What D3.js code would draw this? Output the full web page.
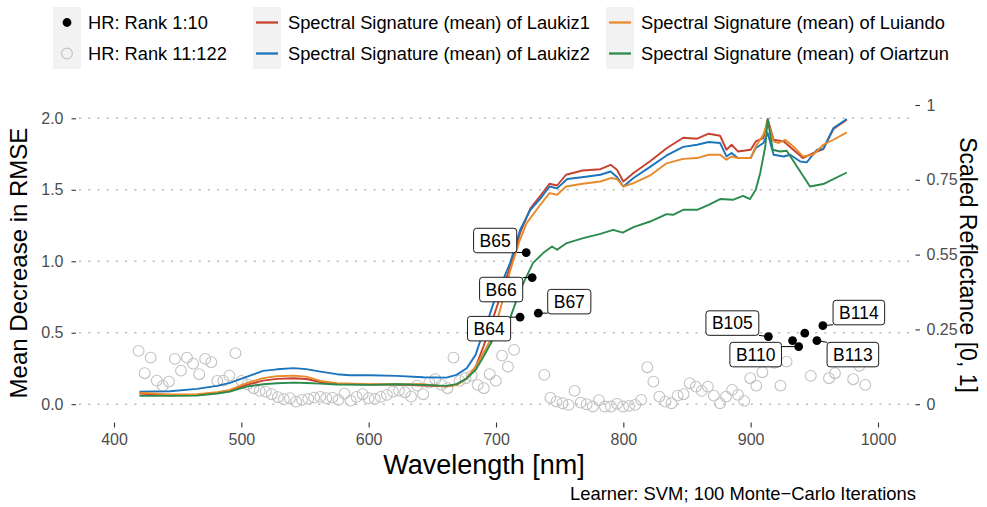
<!DOCTYPE html>
<html>
<head>
<meta charset="utf-8">
<script src="https://cdn.jsdelivr.net/npm/d3@7"></script>
<style>
  html, body { margin: 0; padding: 0; background: #fff; }
  svg { display: block; font-family: "Liberation Sans", Arial, sans-serif; }
</style>
</head>
<body>
<svg id="chart" width="987" height="507"></svg>
<script>
// ---- Band centre wavelengths [nm], B1 ... B122 ----
const bandWavelength = [
  419.3, 424.1, 428.8, 433.6, 438.3, 443.1, 447.8, 452.6, 457.3, 462.1,
  466.9, 471.6, 476.4, 481.1, 485.9, 490.6, 495.4, 500.2, 504.9, 509.7,
  514.4, 519.2, 523.9, 528.7, 533.4, 538.2, 543.0, 547.7, 552.5, 557.2,
  562.0, 566.7, 571.5, 576.3, 581.0, 585.8, 590.5, 595.3, 600.0, 604.8,
  609.5, 614.3, 619.1, 623.8, 628.6, 633.3, 638.1, 642.8, 647.6, 652.3,
  657.1, 661.9, 666.6, 671.4, 676.1, 680.9, 685.6, 690.4, 695.1, 699.9,
  704.7, 709.4, 714.2, 718.9, 723.7, 728.4, 733.2, 737.9, 742.7, 747.5,
  752.2, 757.0, 761.7, 766.5, 771.2, 776.0, 780.8, 785.5, 790.3, 795.0,
  799.8, 804.5, 809.3, 814.0, 818.8, 823.6, 828.3, 833.1, 837.8, 842.6,
  847.3, 852.1, 856.9, 861.6, 866.4, 871.1, 875.9, 880.6, 885.4, 890.1,
  894.9, 899.7, 904.4, 909.2, 913.9, 918.7, 923.4, 928.2, 932.9, 937.7,
  942.5, 947.2, 952.0, 956.7, 961.5, 966.2, 971.0, 975.8, 980.5, 985.3,
  990.0, 994.8
];

// ---- Mean decrease in RMSE per band (permutation importance) ----
const meanDecreaseRMSE = [
  0.373, 0.217, 0.326, 0.165, 0.128, 0.158, 0.317, 0.235, 0.326, 0.284,
  0.210, 0.317, 0.294, 0.163, 0.165, 0.200, 0.357, 0.163, 0.140, 0.112,
  0.093, 0.088, 0.070, 0.049, 0.035, 0.042, 0.018, 0.030, 0.037, 0.046,
  0.051, 0.042, 0.046, 0.030, 0.074, 0.025, 0.051, 0.070, 0.042, 0.037,
  0.051, 0.065, 0.088, 0.095, 0.084, 0.053, 0.130, 0.070, 0.151, 0.175,
  0.135, 0.112, 0.326, 0.163, 0.182, 0.200, 0.135, 0.112, 0.210, 0.163,
  0.340, 0.263, 0.380, 0.609, 1.061, 0.886, 0.637, 0.205, 0.046, 0.018,
  0.007, -0.005, 0.093, 0.011, 0.000, -0.016, 0.028, -0.016, -0.016, 0.002,
  -0.016, -0.012, -0.005, 0.030, 0.259, 0.158, 0.053, 0.018, 0.007, 0.060,
  0.070, 0.147, 0.123, 0.093, 0.123, 0.060, 0.007, 0.053, 0.100, 0.065,
  0.023, 0.182, 0.130, 0.224, 0.473, 0.290, 0.130, 0.298, 0.445, 0.403,
  0.497, 0.198, 0.445, 0.550, 0.182, 0.217, 0.310, 0.330, 0.175, 0.268,
  0.135, 0.300
];

// Bands whose names are written next to their point
const labelledBands = ["B64", "B65", "B66", "B67", "B105", "B110", "B113", "B114"];

// ---- Mean spectral signatures, [wavelength, value on the left axis scale] ----
const laukiz1 = [
  [420, 0.074], [444, 0.062], [465, 0.064], [481, 0.078], [491, 0.092], [504, 0.135],
  [517, 0.165], [528, 0.177], [541, 0.182], [551, 0.176], [562, 0.155], [575, 0.143],
  [601, 0.137], [622, 0.138], [643, 0.130], [661, 0.126], [669, 0.136], [677, 0.180],
  [684, 0.262], [690, 0.400], [698, 0.610], [711, 0.960], [719, 1.200], [727, 1.370],
  [735, 1.460], [742, 1.542], [748, 1.530], [755, 1.605], [768, 1.635], [782, 1.644],
  [790, 1.675], [795, 1.640], [800, 1.558], [808, 1.617], [821, 1.700], [834, 1.790],
  [847, 1.864], [858, 1.857], [867, 1.892], [876, 1.878], [881, 1.780], [885, 1.815],
  [890, 1.768], [900, 1.780], [904, 1.838], [910, 1.862], [913.4, 1.995], [918, 1.850],
  [926, 1.838], [933.5, 1.780], [941, 1.722], [949, 1.757], [957, 1.785], [965, 1.925],
  [975.5, 1.990]
];
const laukiz2 = [
  [420, 0.088], [444, 0.091], [465, 0.107], [481, 0.128], [491, 0.149], [504, 0.191],
  [517, 0.233], [528, 0.244], [541, 0.252], [551, 0.245], [562, 0.228], [575, 0.210],
  [585, 0.203], [601, 0.203], [622, 0.198], [643, 0.189], [661, 0.186], [669, 0.205],
  [677, 0.252], [684, 0.345], [687, 0.427], [690, 0.485], [698, 0.707], [711, 0.987],
  [719, 1.220], [727, 1.360], [735, 1.440], [742, 1.523], [748, 1.510], [756, 1.575],
  [769, 1.589], [782, 1.605], [790, 1.628], [795, 1.589], [800, 1.523], [808, 1.582],
  [821, 1.660], [834, 1.740], [847, 1.800], [858, 1.815], [867, 1.834], [876, 1.827],
  [881, 1.733], [885, 1.757], [890, 1.722], [900, 1.722], [904, 1.792], [910, 1.827],
  [913.4, 1.897], [918, 1.745], [926, 1.733], [931, 1.745], [939, 1.698], [944, 1.692],
  [952, 1.780], [957, 1.785], [965, 1.932], [975.5, 1.995]
];
const luiando = [
  [420, 0.081], [444, 0.068], [465, 0.070], [481, 0.084], [491, 0.100], [504, 0.147],
  [517, 0.182], [528, 0.196], [541, 0.200], [551, 0.193], [562, 0.163], [575, 0.147],
  [601, 0.140], [622, 0.140], [643, 0.140], [661, 0.123], [669, 0.135], [677, 0.182],
  [684, 0.263], [690, 0.357], [695, 0.438], [698, 0.490], [705, 0.720], [711, 0.930],
  [718, 1.130], [724, 1.267], [735, 1.397], [742, 1.477], [748, 1.465], [755, 1.523],
  [768, 1.542], [782, 1.558], [790, 1.582], [795, 1.575], [800, 1.523], [808, 1.547],
  [821, 1.600], [834, 1.685], [847, 1.716], [858, 1.722], [867, 1.745], [876, 1.745],
  [881, 1.710], [885, 1.733], [890, 1.722], [900, 1.722], [904, 1.803], [910, 1.887],
  [913.4, 1.979], [918, 1.838], [922, 1.827], [927, 1.850], [933.5, 1.803], [941, 1.733],
  [949, 1.745], [957, 1.815], [965, 1.850], [975.5, 1.901]
];
const oiartzun = [
  [420, 0.058], [444, 0.058], [465, 0.060], [481, 0.075], [491, 0.088], [504, 0.123],
  [517, 0.140], [528, 0.147], [541, 0.151], [551, 0.148], [562, 0.144], [575, 0.138],
  [601, 0.135], [622, 0.140], [643, 0.135], [661, 0.128], [669, 0.140], [677, 0.180],
  [684, 0.240], [690, 0.330], [698, 0.460], [705, 0.530], [711, 0.600], [719, 0.800],
  [729, 0.987], [737, 1.057], [744, 1.103], [748, 1.080], [755.5, 1.127], [768.5, 1.162],
  [782, 1.192], [792, 1.220], [799.5, 1.200], [808, 1.239], [821, 1.278], [834, 1.330],
  [839, 1.325], [847, 1.360], [858, 1.360], [867, 1.395], [876, 1.435], [886, 1.430],
  [894, 1.458], [899.5, 1.435], [904, 1.500], [907.5, 1.617], [911.5, 1.803], [913.4, 1.995],
  [917.3, 1.780], [923, 1.768], [928.3, 1.773], [946.6, 1.523], [957, 1.540], [975.5, 1.621]
];

const seriesNames  = ["Laukiz1", "Laukiz2", "Luiando", "Oiartzun"];
const seriesValues = [laukiz1, laukiz2, luiando, oiartzun];
const seriesColors = ["#C8412F", "#1C74BC", "#E88A2A", "#2A8B4C"];

// ---- Axis ticks ----
const xTicks = [400, 500, 600, 700, 800, 900, 1000];
const yTicks = [0, 0.5, 1.0, 1.5, 2.0];
const yRightTicks = [0, 0.25, 0.5, 0.75, 1];
const yRightTickLabels = ["0", "0.25", "0.55", "0.75", "1"];

// ---------------------------------------------------------------------------
const svg = d3.select("#chart");
const panel = { left: 76, right: 915.5, top: 96, bottom: 422.5 };

const x  = d3.scaleLinear().domain([400, 1000]).range([114, 878]);
const y  = d3.scaleLinear().domain([0, 2]).range([404.2, 118.3]);
const yR = d3.scaleLinear().domain([0, 1]).range([404.2, 105]);

// horizontal dotted grid at the left-axis breaks
svg.append("g").selectAll("line").data(yTicks).join("line")
  .attr("x1", panel.left + 3).attr("x2", panel.right)
  .attr("y1", d => y(d)).attr("y2", d => y(d))
  .attr("stroke", "#BEBEBE").attr("stroke-width", 1.6)
  .attr("stroke-dasharray", "2.2,7");

// band importance points (ranked; top 10 filled black)
const bands = meanDecreaseRMSE.map((v, i) => ({ name: "B" + (i + 1), wl: bandWavelength[i], v }));
const order = bands.slice().sort((a, b) => b.v - a.v);
order.forEach((d, i) => d.rank = i + 1);
const topBands = bands.filter(d => d.rank <= 10);
const restBands = bands.filter(d => d.rank > 10);

svg.append("g").selectAll("circle").data(restBands).join("circle")
  .attr("cx", d => x(d.wl)).attr("cy", d => y(d.v)).attr("r", 5.4)
  .attr("fill", "none").attr("stroke", "#C2C2C2").attr("stroke-width", 1.1);

// spectral signature lines
const line = d3.line().x(d => x(d[0])).y(d => y(d[1]));
svg.append("g").selectAll("path").data(seriesValues).join("path")
  .attr("d", line).attr("fill", "none")
  .attr("stroke", (d, i) => seriesColors[i]).attr("stroke-width", 1.9)
  .attr("stroke-linejoin", "round");

svg.append("g").selectAll("circle").data(topBands).join("circle")
  .attr("cx", d => x(d.wl)).attr("cy", d => y(d.v)).attr("r", 4.4)
  .attr("fill", "#000");

// repelled labels: offsets of the box centre from its point
const labelOffset = {
  B64: [-31, 11.5], B65: [-31, -12], B66: [-31, 12], B67: [31, -11.5],
  B105: [-36, -13.5], B110: [-43, 8], B113: [36, 14], B114: [36, -13]
};
const labG = svg.append("g");
topBands.filter(d => labelledBands.includes(d.name)).forEach(d => {
  const px = x(d.wl), py = y(d.v);
  const [dx, dy] = labelOffset[d.name];
  const cx = px + dx, cy = py + dy;
  const g = labG.append("g");
  const seg = g.append("line").attr("stroke", "#000").attr("stroke-width", 1);
  const rect = g.append("rect").attr("fill", "#fff").attr("stroke", "#000")
    .attr("stroke-width", 0.9).attr("rx", 3);
  const t = g.append("text").attr("x", cx).attr("y", cy).attr("dy", "0.36em")
    .attr("text-anchor", "middle").attr("font-size", 17.5).attr("fill", "#000").text(d.name);
  const w = t.node().getComputedTextLength() + 12, h = 24.5;
  rect.attr("x", cx - w / 2).attr("y", cy - h / 2).attr("width", w).attr("height", h);
  // segment from point to the nearest box edge, drawn only when clearly apart
  const ex = Math.max(cx - w / 2, Math.min(px, cx + w / 2));
  const ey = Math.max(cy - h / 2, Math.min(py, cy + h / 2));
  const dist = Math.hypot(ex - px, ey - py);
  if (dist > 7) seg.attr("x1", px).attr("y1", py).attr("x2", ex).attr("y2", ey);
  else seg.remove();
});

// ---- axes ----
function styleAxis(g) {
  g.select(".domain").remove();
  g.selectAll(".tick line").attr("stroke", "#333").attr("stroke-width", 1.1);
  g.selectAll(".tick text").attr("fill", "#4D4D4D").attr("font-size", 16)
    .attr("font-family", "Liberation Sans, Arial, sans-serif");
}
svg.append("g").attr("transform", `translate(${panel.left},0)`)
  .call(d3.axisLeft(y).tickValues(yTicks).tickFormat(d3.format(".1f")).tickSize(4.5).tickPadding(8))
  .call(styleAxis);
svg.append("g").attr("transform", `translate(${panel.right},0)`)
  .call(d3.axisRight(yR).tickValues(yRightTicks).tickFormat((d, i) => yRightTickLabels[i]).tickSize(4.5).tickPadding(6.5))
  .call(styleAxis);
svg.append("g").attr("transform", `translate(0,${panel.bottom})`)
  .call(d3.axisBottom(x).tickValues(xTicks).tickFormat(d3.format("d")).tickSize(5).tickPadding(6))
  .call(styleAxis);

// ---- axis titles & caption ----
svg.append("text").attr("x", 484).attr("y", 474).attr("text-anchor", "middle")
  .attr("font-size", 27).attr("fill", "#000").text("Wavelength [nm]");
svg.append("text").attr("transform", "translate(27,263) rotate(-90)").attr("text-anchor", "middle")
  .attr("font-size", 24).attr("fill", "#000").text("Mean Decrease in RMSE");
svg.append("text").attr("transform", "translate(960,265) rotate(90)").attr("text-anchor", "middle")
  .attr("font-size", 23).attr("fill", "#000").text("Scaled Reflectance [0, 1]");
svg.append("text").attr("x", 916).attr("y", 500).attr("text-anchor", "end")
  .attr("font-size", 18.4).attr("fill", "#000").text("Learner: SVM; 100 Monte\u2212Carlo Iterations");

// ---- legend ----
const leg = svg.append("g");
const keyW = 28, keyH = 31, rowY = [7, 38], textGap = 7;
const legendCols = [
  { keyX: 53,  items: [{ type: "dot", label: "HR: Rank 1:10" }, { type: "ring", label: "HR: Rank 11:122" }] },
  { keyX: 253, items: [{ type: "line", s: 0, label: "Spectral Signature (mean) of " + seriesNames[0] },
                       { type: "line", s: 1, label: "Spectral Signature (mean) of " + seriesNames[1] }] },
  { keyX: 606, items: [{ type: "line", s: 2, label: "Spectral Signature (mean) of " + seriesNames[2] },
                       { type: "line", s: 3, label: "Spectral Signature (mean) of " + seriesNames[3] }] }
];
legendCols.forEach(col => {
  col.items.forEach((it, r) => {
    const ky = rowY[r], cx = col.keyX + keyW / 2, cy = ky + keyH / 2;
    leg.append("rect").attr("x", col.keyX).attr("y", ky).attr("width", keyW).attr("height", keyH)
      .attr("fill", "#F2F2F2");
    if (it.type === "dot") leg.append("circle").attr("cx", cx).attr("cy", cy).attr("r", 4.4).attr("fill", "#000");
    else if (it.type === "ring") leg.append("circle").attr("cx", cx).attr("cy", cy).attr("r", 5.4)
      .attr("fill", "none").attr("stroke", "#C2C2C2").attr("stroke-width", 1.1);
    else leg.append("line").attr("x1", col.keyX + 3).attr("x2", col.keyX + keyW - 3)
      .attr("y1", cy).attr("y2", cy).attr("stroke", seriesColors[it.s]).attr("stroke-width", 2.3);
    leg.append("text").attr("x", col.keyX + keyW + textGap).attr("y", cy).attr("dy", "0.36em")
      .attr("font-size", 18.3).attr("fill", "#000").text(it.label);
  });
});
</script>
</body>
</html>
